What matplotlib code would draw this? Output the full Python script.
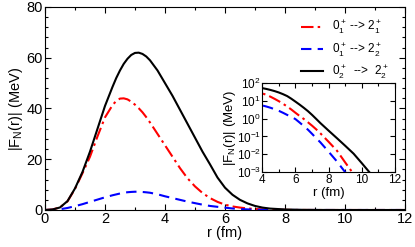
import numpy as np
import matplotlib
matplotlib.use("Agg")
import matplotlib.pyplot as plt
from matplotlib.ticker import MultipleLocator, LogLocator

plt.rcParams['font.family'] = ['Liberation Sans', 'DejaVu Sans']
plt.rcParams['mathtext.fontset'] = 'custom'
plt.rcParams['mathtext.rm'] = 'Liberation Sans'
plt.rcParams['mathtext.it'] = 'Liberation Sans'
plt.rcParams['mathtext.bf'] = 'Liberation Sans:bold'

# radius (fm)
r = [0, 0.25, 0.5, 0.75, 1.0, 1.25, 1.5, 1.75, 2.0, 2.25, 2.375, 2.5, 2.625, 2.75, 2.875,
     3.0, 3.125, 3.25, 3.375, 3.5, 3.75,
     4.0, 4.25, 4.5, 4.75, 5.0, 5.25, 5.5, 5.75, 6.0, 6.25, 6.5, 6.75, 7.0, 7.25, 7.5,
     8.0, 8.5, 9.0, 9.5, 10.0, 10.5, 11.0, 11.5, 12.0]

# |F_N(r)| (MeV)
f_01_21 = [0, 0.2, 1.0, 3.4, 8.3, 14.5, 21, 29, 36.5, 41.3, 43.0, 43.9, 44.0, 43.6, 42.7,
           41.5, 40.1, 38.5, 36.6, 34.5, 30,
           25.5, 21, 16.5, 12.5, 9.3, 6.7, 4.7, 3.2, 2.1, 1.4, 0.95, 0.62, 0.40, 0.25, 0.15,
           0.05, 0.016, 0.0035, 0.0008, 0.0002, 4e-5, 1e-5, 2e-6, 5e-7]
f_01_22 = [0, 0.05, 0.3, 0.8, 1.5, 2.3, 3.2, 4.1, 5.0, 5.8, 6.15, 6.5, 6.8, 7.0, 7.12,
           7.2, 7.2, 7.1, 6.97, 6.8, 6.2,
           5.4, 4.7, 4.0, 3.3, 2.7, 2.1, 1.6, 1.25, 0.93, 0.6, 0.38, 0.24, 0.14, 0.08, 0.047,
           0.014, 0.004, 0.001, 0.00025, 5e-5, 1e-5, 2e-6, 4e-7, 8e-8]
f_02_22 = [0, 0.2, 1.0, 3.5, 8.5, 15, 23, 32, 41, 48.5, 52, 55, 57.6, 59.6, 61.1,
           61.9, 62.0, 61.5, 60.5, 59, 55,
           50, 45, 39.5, 34, 28.5, 23, 18, 12.8, 8.8, 6.0, 4.0, 2.6, 1.6, 0.95, 0.56,
           0.21, 0.08, 0.03, 0.011, 0.0032, 0.0009, 0.00025, 6e-5, 1.5e-5]

labels = [r'$0_1^+$ --> $2_1^+$', r'$0_1^+$ --> $2_2^+$', r'$0_2^+$  -->  $2_2^+$']
colors = ['red', 'blue', 'black']
styles = [(0, (6, 2, 1.2, 2)), (0, (5, 3)), '-']

series = [f_01_21, f_01_22, f_02_22]

fig = plt.figure(figsize=(4.15, 2.47), dpi=100)
ax = fig.add_axes([0.1084, 0.1498, 0.8675, 0.8219])

for y, c, ls, lab in zip(series, colors, styles, labels):
    ax.plot(r, y, color=c, linestyle=ls, lw=1.5, label=lab, solid_joinstyle='round')

ax.set_xlim(0, 12)
ax.set_ylim(0, 80)
ax.xaxis.set_major_locator(MultipleLocator(2))
ax.xaxis.set_minor_locator(MultipleLocator(1))
ax.yaxis.set_major_locator(MultipleLocator(20))
ax.yaxis.set_minor_locator(MultipleLocator(4))
ax.tick_params(which='both', direction='in', top=True, right=True, labelsize=10.5, pad=1.5)
ax.tick_params(which='major', length=4, width=0.8)
ax.tick_params(which='minor', length=2.5, width=0.8)
ax.set_xlabel('r (fm)', fontsize=10.5, labelpad=0)
ax.set_ylabel(r'|F$_\mathregular{N}$(r)| (MeV)', fontsize=10.5, labelpad=1)

leg = ax.legend(loc='upper right', bbox_to_anchor=(0.975, 0.975), frameon=False,
                fontsize=8.5, handlelength=1.9, handletextpad=0.75, labelspacing=0.42,
                borderaxespad=0.2)

# inset
axi = fig.add_axes([0.632, 0.3024, 0.320, 0.3626])
for y, c, ls in zip(series, colors, styles):
    axi.plot(r[1:], y[1:], color=c, linestyle=ls, lw=1.5, solid_joinstyle='round')
axi.set_yscale('log')
axi.set_xlim(4, 12)
axi.set_ylim(1e-3, 1e2)
axi.xaxis.set_major_locator(MultipleLocator(2))
axi.xaxis.set_minor_locator(MultipleLocator(1))
axi.yaxis.set_major_locator(LogLocator(base=10, numticks=10))
axi.yaxis.set_minor_locator(LogLocator(base=10, subs=[], numticks=10))
axi.tick_params(which='both', direction='in', top=True, right=True, labelsize=8.5, pad=1)
axi.tick_params(which='major', length=3.5, width=0.8)
axi.tick_params(which='minor', length=2, width=0.8)
axi.set_xlabel('r (fm)', fontsize=9.5, labelpad=1)
axi.set_ylabel(r'|F$_\mathregular{N}$(r)| (MeV)', fontsize=9.5, labelpad=-1)

fig.savefig('out.png', dpi=100)
